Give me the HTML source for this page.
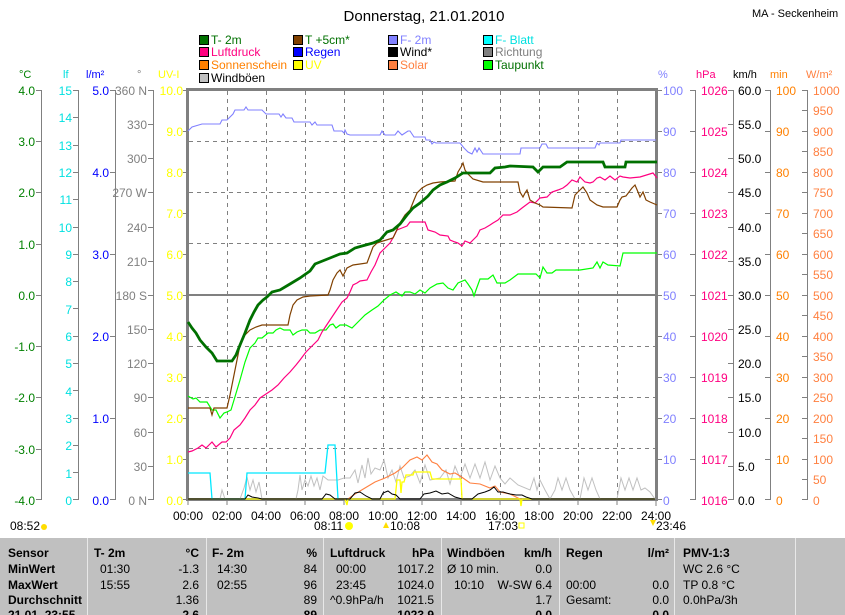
<!DOCTYPE html>
<html><head><meta charset="utf-8"><style>
html,body{margin:0;padding:0;background:#fff;}
svg{display:block;font-family:"Liberation Sans",Arial,sans-serif;}
</style></head><body>
<svg width="845" height="615" viewBox="0 0 845 615" xmlns="http://www.w3.org/2000/svg">
<rect width="845" height="615" fill="#fff"/>
<text x="424" y="21" font-size="15" text-anchor="middle">Donnerstag, 21.01.2010</text>
<text x="752" y="17" font-size="11">MA - Seckenheim</text>

<!-- legend -->
<g font-size="12">
<rect x="199.5" y="35.5" width="9" height="9" fill="#007000" stroke="#000"/><text x="211" y="44" fill="#007000">T- 2m</text>
<rect x="293.5" y="35.5" width="9" height="9" fill="#804000" stroke="#000"/><text x="305" y="44" fill="#007000">T +5cm*</text>
<rect x="388.5" y="35.5" width="9" height="9" fill="#8080ff" stroke="#000"/><text x="400" y="44" fill="#8080ff">F- 2m</text>
<rect x="483.5" y="35.5" width="9" height="9" fill="#00ffff" stroke="#000"/><text x="495" y="44" fill="#00e0e0">F- Blatt</text>
<rect x="199.5" y="47.5" width="9" height="9" fill="#ff0080" stroke="#000"/><text x="211" y="56" fill="#ff0080">Luftdruck</text>
<rect x="293.5" y="47.5" width="9" height="9" fill="#0000ff" stroke="#000"/><text x="305" y="56" fill="#0000ff">Regen</text>
<rect x="388.5" y="47.5" width="9" height="9" fill="#000" stroke="#000"/><text x="400" y="56" fill="#000">Wind*</text>
<rect x="483.5" y="47.5" width="9" height="9" fill="#808080" stroke="#000"/><text x="495" y="56" fill="#808080">Richtung</text>
<rect x="199.5" y="60.5" width="9" height="9" fill="#ff8000" stroke="#000"/><text x="211" y="69" fill="#ff8000">Sonnenschein</text>
<rect x="293.5" y="60.5" width="9" height="9" fill="#ffff00" stroke="#000"/><text x="305" y="69" fill="#ffff00">UV</text>
<rect x="388.5" y="60.5" width="9" height="9" fill="#ff8040" stroke="#000"/><text x="400" y="69" fill="#ff8040">Solar</text>
<rect x="483.5" y="60.5" width="9" height="9" fill="#00ff00" stroke="#000"/><text x="495" y="69" fill="#007000">Taupunkt</text>
<rect x="199.5" y="73.5" width="9" height="9" fill="#c0c0c0" stroke="#000"/><text x="211" y="82" fill="#000">Windböen</text>
</g>

<!-- axis headers -->
<g font-size="11">
<text x="19" y="78" fill="#008000">°C</text>
<text x="63" y="78" fill="#00e0e0">lf</text>
<text x="86" y="78" fill="#0000ff">l/m²</text>
<text x="137" y="78" fill="#808080">°</text>
<text x="158" y="78" fill="#ffff00">UV-I</text>
<text x="658" y="78" fill="#8080ff">%</text>
<text x="696" y="78" fill="#ff0080">hPa</text>
<text x="733" y="78" fill="#000">km/h</text>
<text x="770" y="78" fill="#ff8000">min</text>
<text x="806" y="78" fill="#ff8040">W/m²</text>
</g>

<!-- left axis lines -->
<g stroke="#808080" stroke-width="1">
<line x1="41.5" y1="90" x2="41.5" y2="500"/>
<line x1="78.5" y1="90" x2="78.5" y2="500"/>
<line x1="115.5" y1="90" x2="115.5" y2="500"/>
<line x1="153.5" y1="90" x2="153.5" y2="500"/>
<line x1="695.5" y1="90" x2="695.5" y2="500"/>
<line x1="733.5" y1="90" x2="733.5" y2="500"/>
<line x1="770.5" y1="90" x2="770.5" y2="500"/>
<line x1="807.5" y1="90" x2="807.5" y2="500"/>
</g>

<g font-size="12" text-anchor="end">
<!-- °C -->
<g fill="#008000">
<text x="35" y="95">4.0</text><text x="35" y="197">2.0</text><text x="35" y="146">3.0</text><text x="35" y="249">1.0</text>
<text x="35" y="300">0.0</text><text x="35" y="351">-1.0</text><text x="35" y="402">-2.0</text><text x="35" y="454">-3.0</text><text x="35" y="505">-4.0</text>
</g>
<g fill="#00e0e0">
<text x="72" y="95">15</text><text x="72" y="122">14</text><text x="72" y="150">13</text><text x="72" y="177">12</text><text x="72" y="204">11</text><text x="72" y="232">10</text><text x="72" y="259">9</text><text x="72" y="286">8</text><text x="72" y="314">7</text><text x="72" y="341">6</text><text x="72" y="368">5</text><text x="72" y="396">4</text><text x="72" y="423">3</text><text x="72" y="450">2</text><text x="72" y="478">1</text><text x="72" y="505">0</text>
</g>
<g fill="#0000ff">
<text x="109" y="95">5.0</text><text x="109" y="177">4.0</text><text x="109" y="259">3.0</text><text x="109" y="341">2.0</text><text x="109" y="423">1.0</text><text x="109" y="505">0.0</text>
</g>
<g fill="#808080">
<text x="147" y="95">360 N</text><text x="147" y="129">330</text><text x="147" y="163">300</text><text x="147" y="197">270 W</text><text x="147" y="232">240</text><text x="147" y="266">210</text><text x="147" y="300">180 S</text><text x="147" y="334">150</text><text x="147" y="368">120</text><text x="147" y="402">90</text><text x="147" y="437">60</text><text x="147" y="471">30</text><text x="147" y="505">0 N</text>
</g>
<g fill="#ffff00">
<text x="183" y="95">10.0</text><text x="183" y="136">9.0</text><text x="183" y="177">8.0</text><text x="183" y="218">7.0</text><text x="183" y="259">6.0</text><text x="183" y="300">5.0</text><text x="183" y="341">4.0</text><text x="183" y="382">3.0</text><text x="183" y="423">2.0</text><text x="183" y="464">1.0</text><text x="183" y="505">0.0</text>
</g>
</g>

<g font-size="12">
<g fill="#8080ff">
<text x="663" y="95">100</text><text x="663" y="136">90</text><text x="663" y="177">80</text><text x="663" y="218">70</text><text x="663" y="259">60</text><text x="663" y="300">50</text><text x="663" y="341">40</text><text x="663" y="382">30</text><text x="663" y="423">20</text><text x="663" y="464">10</text><text x="663" y="505">0</text>
</g>
<g fill="#ff0080">
<text x="701" y="95">1026</text><text x="701" y="136">1025</text><text x="701" y="177">1024</text><text x="701" y="218">1023</text><text x="701" y="259">1022</text><text x="701" y="300">1021</text><text x="701" y="341">1020</text><text x="701" y="382">1019</text><text x="701" y="423">1018</text><text x="701" y="464">1017</text><text x="701" y="505">1016</text>
</g>
<g fill="#000">
<text x="738" y="95">60.0</text><text x="738" y="129">55.0</text><text x="738" y="163">50.0</text><text x="738" y="197">45.0</text><text x="738" y="232">40.0</text><text x="738" y="266">35.0</text><text x="738" y="300">30.0</text><text x="738" y="334">25.0</text><text x="738" y="368">20.0</text><text x="738" y="402">15.0</text><text x="738" y="437">10.0</text><text x="738" y="471">5.0</text><text x="738" y="505">0.0</text>
</g>
<g fill="#ff8000">
<text x="776" y="95">100</text><text x="776" y="136">90</text><text x="776" y="177">80</text><text x="776" y="218">70</text><text x="776" y="259">60</text><text x="776" y="300">50</text><text x="776" y="341">40</text><text x="776" y="382">30</text><text x="776" y="423">20</text><text x="776" y="464">10</text><text x="776" y="505">0</text>
</g>
<g fill="#ff8040">
<text x="813" y="95">1000</text><text x="813" y="115">950</text><text x="813" y="136">900</text><text x="813" y="156">850</text><text x="813" y="177">800</text><text x="813" y="197">750</text><text x="813" y="218">700</text><text x="813" y="238">650</text><text x="813" y="259">600</text><text x="813" y="279">550</text><text x="813" y="300">500</text><text x="813" y="320">450</text><text x="813" y="341">400</text><text x="813" y="361">350</text><text x="813" y="382">300</text><text x="813" y="402">250</text><text x="813" y="423">200</text><text x="813" y="443">150</text><text x="813" y="464">100</text><text x="813" y="484">50</text><text x="813" y="505">0</text>
</g>
</g>

<!-- ticks -->
<g stroke="#808080">
<path d="M36 90.5h6M36 141.5h6M36 192.5h6M36 244.5h6M36 295.5h6M36 346.5h6M36 397.5h6M36 449.5h6M36 499.5h6"/>
<path d="M73 90.5h6M73 145.5h6M73 199.5h6M73 254.5h6M73 308.5h6M73 363.5h6M73 418.5h6M73 472.5h6M73 499.5h6M73 117.5h6M73 172.5h6M73 227.5h6M73 281.5h6M73 336.5h6M73 390.5h6M73 445.5h6"/>
<path d="M110 90.5h6M110 172.5h6M110 254.5h6M110 336.5h6M110 418.5h6M110 499.5h6"/>
<path d="M148 90.5h6M148 124.5h6M148 158.5h6M148 192.5h6M148 227.5h6M148 261.5h6M148 295.5h6M148 329.5h6M148 363.5h6M148 397.5h6M148 432.5h6M148 466.5h6M148 499.5h6"/>
<path d="M183 90.5h5M183 131.5h5M183 172.5h5M183 213.5h5M183 254.5h5M183 295.5h5M183 336.5h5M183 377.5h5M183 418.5h5M183 459.5h5M183 499.5h5"/>
<path d="M656 90.5h6M656 131.5h6M656 172.5h6M656 213.5h6M656 254.5h6M656 295.5h6M656 336.5h6M656 377.5h6M656 418.5h6M656 459.5h6M656 499.5h6"/>
<path d="M690 90.5h6M690 131.5h6M690 172.5h6M690 213.5h6M690 254.5h6M690 295.5h6M690 336.5h6M690 377.5h6M690 418.5h6M690 459.5h6M690 499.5h6"/>
<path d="M728 90.5h6M728 124.5h6M728 158.5h6M728 192.5h6M728 227.5h6M728 261.5h6M728 295.5h6M728 329.5h6M728 363.5h6M728 397.5h6M728 432.5h6M728 466.5h6M728 499.5h6"/>
<path d="M765 90.5h6M765 131.5h6M765 172.5h6M765 213.5h6M765 254.5h6M765 295.5h6M765 336.5h6M765 377.5h6M765 418.5h6M765 459.5h6M765 499.5h6"/>
<path d="M802 90.5h6M802 110.5h6M802 131.5h6M802 151.5h6M802 172.5h6M802 192.5h6M802 213.5h6M802 233.5h6M802 254.5h6M802 274.5h6M802 295.5h6M802 315.5h6M802 336.5h6M802 356.5h6M802 377.5h6M802 397.5h6M802 418.5h6M802 438.5h6M802 459.5h6M802 479.5h6M802 499.5h6"/>
</g>

<!-- grid -->
<g stroke="#808080" stroke-dasharray="4,4" stroke-width="1">
<path d="M227.5 91V499M266.5 91V499M305.5 91V499M344.5 91V499M383.5 91V499M422.5 91V499M461.5 91V499M500.5 91V499M539.5 91V499M578.5 91V499M617.5 91V499"/>
<path d="M189 141.5H655M189 192.5H655M189 243.5H655M189 346.5H655M189 397.5H655M189 448.5H655"/>
</g>
<line x1="188" y1="295" x2="656" y2="295" stroke="#808080" stroke-width="2"/>
<rect x="187.5" y="89.5" width="469" height="410" fill="none" stroke="#808080" stroke-width="3"/>
<!-- bottom tick marks -->
<path d="M188 500v5M227 500v5M266 500v5M305 500v5M344 500v5M383 500v5M422 500v5M461 500v5M500 500v5M539 500v5M578 500v5M617 500v5M656 500v6" stroke="#808080"/>

<!-- series -->
<g fill="none" stroke-linejoin="miter">
<!-- Windboeen gray -->
<polyline stroke="#c0c0c0" stroke-width="1" points="188,499 220,499 222,490 225,499 240,499 244,488 247,477 250,490 253,480 256,492 259,482 262,499 296,499 298,490 300,475 302,490 305,480 308,486 311,476 314,486 317,478 320,490 323,476 328,480 338,480 344,478 350,478 355,470 358,483 362,465 365,478 368,458 371,474 375,468 380,470 384,460 388,478 392,470 396,482 400,466 404,478 410,476 415,470 420,483 425,465 430,480 440,478 446,470 450,484 455,466 460,478 465,464 470,478 475,464 480,478 485,462 490,480 495,466 500,478 505,484 510,478 518,485 530,490 534,478 537,490 540,480 545,490 550,499 555,490 558,478 562,490 566,478 570,490 575,499 580,499 584,478 588,490 592,478 596,490 600,499 617,499 621,478 625,490 629,478 633,490 637,478 641,490 645,488 650,492 655,499"/>
<!-- F-Blatt cyan -->
<polyline stroke="#00e8ff" stroke-width="1.3" points="188,473 210,473 212,499 245,499 247,473 325,473 328,445 335,445 338,499"/>
<!-- Solar -->
<polyline stroke="#ff8040" stroke-width="1.1" points="348,499 355,494 365,488 375,482 385,478 395,473 402,468 410,460 417,457 422,460 427,455 432,462 437,464 442,470 450,474 455,473 460,476 463,478 470,483 480,484 490,488 495,486 500,492 510,494 520,499 655,499"/>
<!-- UV -->
<polyline stroke="#ffff00" stroke-width="1.3" points="188,499 345,499 347,505 348,499 395,499 397,480 400,480 401,493 402,482 404,482 406,475 413,475 414,472 430,472 432,479 461,479 462,499 520,499 521,506 522,499 655,499"/>
<!-- Wind black -->
<polyline stroke="#000" stroke-width="1" points="188,499 245,499 248,495 252,497 258,498 262,499 322,499 326,494 330,495 335,499 350,499 355,493 360,492 366,496 372,499 380,499 383,493 388,491 392,494 396,495 400,499 420,499 424,494 430,493 436,491 442,494 448,493 455,497 462,499 472,499 478,494 485,492 490,490 494,487 498,492 503,492 510,494 516,495 522,495 526,497 532,499 655,499"/>
<!-- F-2m -->
<polyline stroke="#8080ff" stroke-width="1.1" points="188,131 192,127 202,124 220,124 222,120 227,120 233,114 235,110 244,110 246,107 248,110 262,110 266,114 279,114 281,117 283,114 286,118 292,118 294,122 310,122 312,125 315,122 317,125 332,125 334,131 342,131 344,133 345,130 347,134 350,135 380,135 382,131 385,135 395,135 398,131 402,135 408,131 410,131 414,137 425,137 426,140 430,140 432,144 434,142 436,143 445,143 460,143 464,148 468,152 472,154 475,148 477,152 479,148 483,154 520,154 521,148 540,148 542,144 546,144 548,148 595,148 597,143 599,145 600,143 620,143 621,140 656,140"/>
<!-- Taupunkt -->
<polyline stroke="#00ff00" stroke-width="1.2" points="188,396 193,399 196,398 200,402 207,402 212,410 216,410 220,418 224,413 227,412 231,410 234,400 240,380 245,362 250,348 255,343 258,338 262,338 268,333 273,333 276,330 280,328 284,330 290,330 293,335 297,332 302,330 307,330 310,333 315,333 320,330 326,330 330,325 333,324 336,328 340,325 346,325 352,328 360,320 365,315 372,310 378,306 384,300 390,295 396,292 402,296 405,292 410,292 415,294 420,290 425,293 430,288 437,284 443,283 448,288 453,290 458,283 465,280 468,284 472,290 474,296 476,290 480,279 488,279 493,275 497,283 505,283 510,280 518,274 536,274 540,278 543,267 547,273 552,273 556,270 562,270 570,270 580,270 593,268 597,262 600,268 603,262 608,265 620,266 623,253 657,253"/>
<!-- Luftdruck -->
<polyline stroke="#ff0080" stroke-width="1.2" points="188,452 192,451 198,448 202,445 206,448 212,442 216,447 222,442 226,442 230,438 234,430 240,425 245,418 250,410 255,405 260,398 266,394 272,390 278,385 284,378 290,372 296,365 300,360 306,352 312,346 318,340 322,332 326,326 330,320 334,314 338,308 342,302 347,298 350,292 353,285 357,283 360,281 367,280 371,272 375,265 380,253 385,248 390,243 394,236 397,230 402,228 407,226 410,222 415,222 425,222 428,230 435,232 440,235 448,236 450,240 455,242 458,243 462,246 465,241 470,243 473,240 477,236 480,230 485,228 490,225 493,223 498,220 503,215 510,215 517,212 522,208 530,202 535,203 540,198 547,197 552,192 558,190 563,188 567,185 572,180 577,182 580,177 585,182 590,183 593,182 597,178 600,177 605,180 610,176 615,180 620,176 623,177 630,178 640,177 653,173 657,178"/>
<!-- T +5cm -->
<polyline stroke="#804000" stroke-width="1.2" points="188,408 210,408 212,415 214,408 227,408 230,395 233,380 237,360 240,345 245,335 250,330 256,327 262,325 288,325 290,315 293,305 297,300 303,297 310,296 328,295 330,290 333,280 337,273 340,270 343,276 347,268 353,265 360,264 367,263 370,255 373,247 377,243 383,241 393,238 400,223 405,215 410,210 414,200 417,193 422,188 427,185 433,183 440,182 455,181 458,172 461,167 463,163 465,170 467,173 473,179 483,182 518,182 520,192 523,197 525,193 527,190 530,200 535,203 540,205 543,207 572,208 575,195 580,190 583,187 587,193 590,200 597,205 603,207 617,207 620,200 622,197 626,196 632,188 635,185 638,192 640,197 643,192 646,200 650,202 657,205"/>
<!-- T-2m -->
<polyline stroke="#007000" stroke-width="2.8" points="188,322 192,328 196,333 200,340 206,347 212,353 217,361 232,361 236,355 240,345 245,333 250,320 254,312 258,305 263,300 267,297 272,292 280,290 290,284 300,278 310,271 315,264 320,262 330,258 340,254 347,253 355,248 362,246 373,243 380,240 387,232 393,230 400,224 407,215 413,208 420,203 428,196 433,190 440,185 447,182 455,178 463,173 490,173 495,168 505,167 510,166 533,167 538,172 543,167 560,167 567,162 603,162 605,167 625,167 626,162 657,162"/>
</g>

<!-- time labels -->
<g font-size="12" text-anchor="middle">
<text x="188" y="520">00:00</text><text x="227" y="520">02:00</text><text x="266" y="520">04:00</text><text x="305" y="520">06:00</text><text x="344" y="520">08:00</text><text x="383" y="520">10:00</text><text x="422" y="520">12:00</text><text x="461" y="520">14:00</text><text x="500" y="520">16:00</text><text x="539" y="520">18:00</text><text x="578" y="520">20:00</text><text x="617" y="520">22:00</text><text x="656" y="520">24:00</text>
</g>
<g font-size="12">
<text x="10" y="530">08:52</text><circle cx="44" cy="527" r="3" fill="#ffdd00"/>
<text x="314" y="530">08:11</text><circle cx="349" cy="526" r="4" fill="#ffff00"/>
<path d="M386 522l-3 6h6z" fill="#ffdd00"/><text x="390" y="530">10:08</text>
<text x="488" y="530">17:03</text><rect x="519" y="523" width="5" height="5" fill="none" stroke="#ffff00"/>
<path d="M650 520l3 6 3-6z" fill="#ffdd00"/><text x="656" y="530">23:46</text>
</g>

<!-- table -->
<rect x="0" y="538" width="845" height="77" fill="#c0c0c0"/>
<g stroke="#e8e8e8"><path d="M87.5 538V615M206.5 538V615M323.5 538V615M441.5 538V615M559.5 538V615M674.5 538V615M795.5 538V615"/></g>
<g font-size="12" font-weight="bold">
<text x="8" y="557">Sensor</text><text x="8" y="573">MinWert</text><text x="8" y="589">MaxWert</text><text x="8" y="604">Durchschnitt</text><text x="8" y="619">21.01. 23:55</text>
<text x="94" y="557">T- 2m</text><text x="199" y="557" text-anchor="end">°C</text>
<text x="212" y="557">F- 2m</text><text x="317" y="557" text-anchor="end">%</text>
<text x="330" y="557">Luftdruck</text><text x="434" y="557" text-anchor="end">hPa</text>
<text x="447" y="557">Windböen</text><text x="552" y="557" text-anchor="end">km/h</text>
<text x="566" y="557">Regen</text><text x="669" y="557" text-anchor="end">l/m²</text>
<text x="683" y="557">PMV-1:3</text>
<text x="199" y="619" text-anchor="end">2.6</text><text x="317" y="619" text-anchor="end">89</text><text x="434" y="619" text-anchor="end">1023.9</text><text x="552" y="619" text-anchor="end">0.0</text><text x="669" y="619" text-anchor="end">0.0</text>
</g>
<g font-size="12">
<text x="100" y="573">01:30</text><text x="199" y="573" text-anchor="end">-1.3</text>
<text x="100" y="589">15:55</text><text x="199" y="589" text-anchor="end">2.6</text>
<text x="199" y="604" text-anchor="end">1.36</text>
<text x="217" y="573">14:30</text><text x="317" y="573" text-anchor="end">84</text>
<text x="217" y="589">02:55</text><text x="317" y="589" text-anchor="end">96</text>
<text x="317" y="604" text-anchor="end">89</text>
<text x="336" y="573">00:00</text><text x="434" y="573" text-anchor="end">1017.2</text>
<text x="336" y="589">23:45</text><text x="434" y="589" text-anchor="end">1024.0</text>
<text x="330" y="604">^0.9hPa/h</text><text x="434" y="604" text-anchor="end">1021.5</text>
<text x="447" y="573">Ø 10 min.</text><text x="552" y="573" text-anchor="end">0.0</text>
<text x="454" y="589">10:10</text><text x="552" y="589" text-anchor="end">W-SW 6.4</text>
<text x="552" y="604" text-anchor="end">1.7</text>
<text x="566" y="589">00:00</text><text x="669" y="589" text-anchor="end">0.0</text>
<text x="566" y="604">Gesamt:</text><text x="669" y="604" text-anchor="end">0.0</text>
<text x="683" y="573">WC 2.6 °C</text><text x="683" y="589">TP 0.8 °C</text><text x="683" y="604">0.0hPa/3h</text>
</g>
</svg>
</body></html>
